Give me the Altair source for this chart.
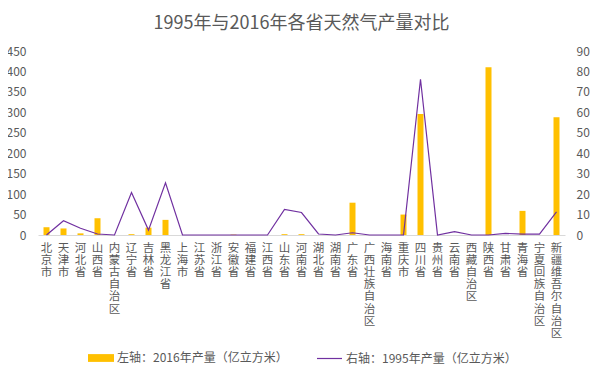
import altair as alt
import pandas as pd

provinces = ["北京市", "天津市", "河北省", "山西省", "内蒙古自治区", "辽宁省", "吉林省", "黑龙江省",
             "上海市", "江苏省", "浙江省", "安徽省", "福建省", "江西省", "山东省", "河南省",
             "湖北省", "湖南省", "广东省", "广西壮族自治区", "海南省", "重庆市", "四川省", "贵州省",
             "云南省", "西藏自治区", "陕西省", "甘肃省", "青海省", "宁夏回族自治区", "新疆维吾尔自治区"]
output_2016 = [19, 16, 4, 41, 0, 2, 18, 37, 0, 0, 0, 1, 0, 0, 2, 2,
               0, 0, 79, 0, 0, 50, 296, 0, 0, 0, 410, 0, 59, 0, 288]
output_1995 = [0, 7, 3.3, 0.5, 0, 20.8, 2.4, 25.5, 0, 0, 0, 0, 0, 0, 12.5, 11,
               0.5, 0, 1.1, 0, 0, 0, 76.2, 0, 1.6, 0, 0, 0.8, 0.4, 0.4, 11.3]

label_2016 = "左轴：2016年产量（亿立方米）"
label_1995 = "右轴：1995年产量（亿立方米）"

df = pd.DataFrame({
    "province": provinces,
    "v2016": output_2016,
    "v1995": output_1995,
    "s2016": [label_2016] * len(provinces),
    "s1995": [label_1995] * len(provinces),
})

FONT = "Noto Sans CJK SC"
GREY = "#595959"
GOLD = "#FFC000"
PURPLE = "#7030A0"

x = alt.X("province:N", sort=provinces, title=None,
          scale=alt.Scale(paddingInner=0, paddingOuter=0),
          axis=alt.Axis(labelAngle=0, labelExpr="split(datum.label, '')",
                        labelLineHeight=12.2, labelFontSize=11.5, labelColor=GREY,
                        labelFont=FONT, labelBaseline="top", labelPadding=7,
                        ticks=False, domainColor="#D9D9D9", domainWidth=1,
                        labelOverlap=False))

bars = alt.Chart(df).mark_bar(size=6).encode(
    x=x,
    y=alt.Y("v2016:Q", title=None,
            scale=alt.Scale(domain=[0, 450], nice=False),
            axis=alt.Axis(values=list(range(0, 451, 50)), orient="left", grid=False,
                          ticks=False, domain=False, labelColor=GREY, labelFontSize=12,
                          labelFont=FONT, labelPadding=12)),
    color=alt.Color("s2016:N", scale=alt.Scale(range=[GOLD]),
                    legend=alt.Legend(title=None, orient="none", legendX=50, legendY=294,
                                      symbolType="M-1,-0.3L1,-0.3L1,0.3L-1,0.3Z",
                                      symbolSize=676, symbolStrokeWidth=0,
                                      labelFontSize=12, labelColor=GREY, labelFont=FONT,
                                      labelOffset=3, labelLimit=400, padding=0)),
)

line = alt.Chart(df).mark_line(strokeWidth=1.2).encode(
    x=x,
    y=alt.Y("v1995:Q", title=None,
            scale=alt.Scale(domain=[0, 90], nice=False),
            axis=alt.Axis(values=list(range(0, 91, 10)), orient="right", grid=False,
                          ticks=False, domain=False, labelColor=GREY, labelFontSize=12,
                          labelFont=FONT, labelPadding=11)),
    stroke=alt.Stroke("s1995:N", scale=alt.Scale(range=[PURPLE]),
                      legend=alt.Legend(title=None, orient="none", legendX=278, legendY=294,
                                        symbolType="stroke", symbolSize=625,
                                        symbolStrokeWidth=1.2,
                                        labelFontSize=12, labelColor=GREY, labelFont=FONT,
                                        labelOffset=3, labelLimit=400, padding=0)),
)

chart = alt.layer(bars, line).resolve_scale(
    y="independent", color="independent", stroke="independent"
).resolve_legend(color="independent", stroke="independent").properties(
    width=527, height=184,
    autosize=alt.AutoSizeParams(type="none"),
    padding={"left": 30, "top": 43, "right": 25, "bottom": 136},
    title=alt.TitleParams("1995年与2016年各省天然气产量对比", fontSize=18,
                          fontWeight="normal", color=GREY, font=FONT,
                          anchor="middle", offset=12),
).configure_view(stroke=None)

chart.save("out.html", embed_options={"renderer": "svg", "actions": False})
